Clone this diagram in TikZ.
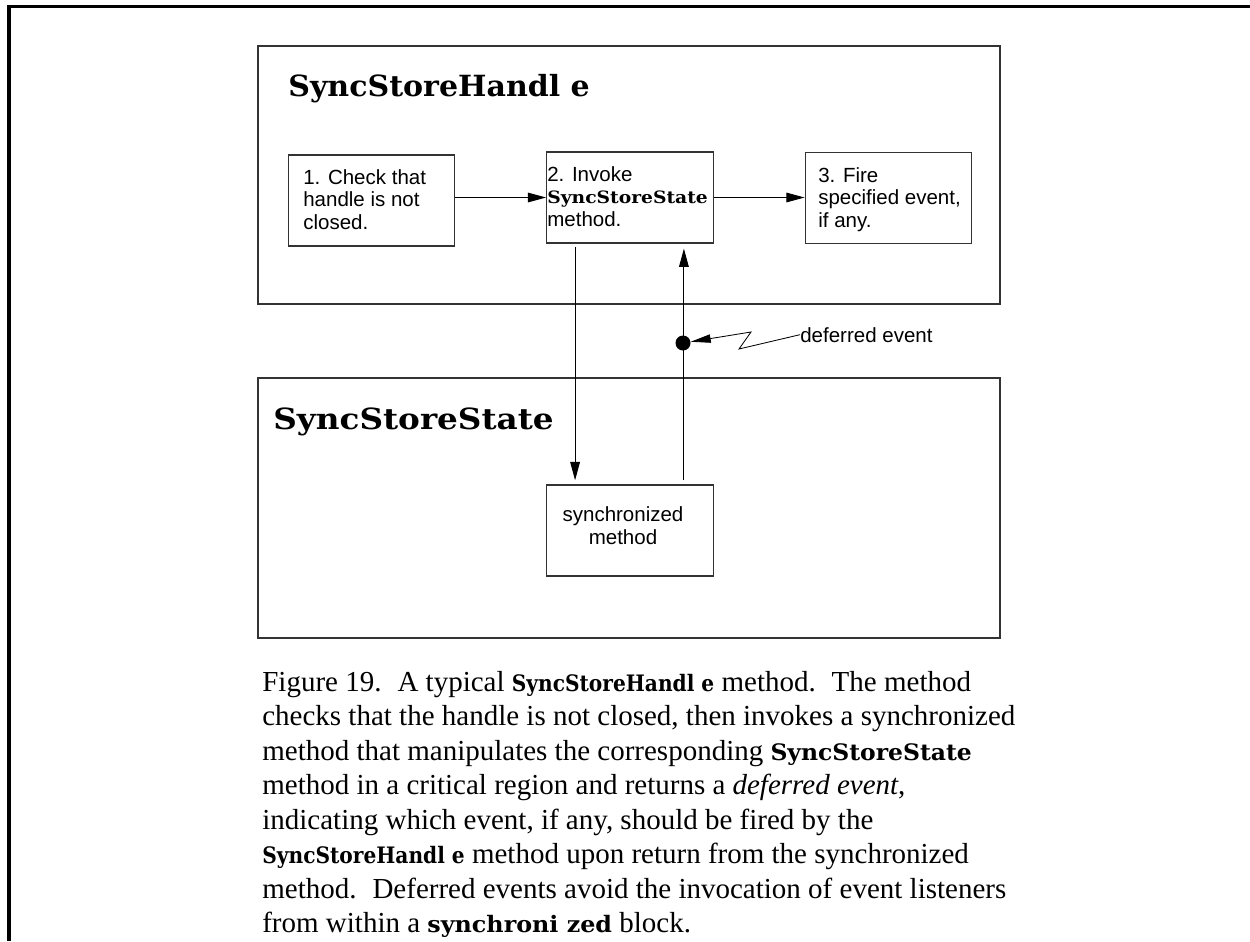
\documentclass[tikz,border=0pt]{standalone}
\usepackage{fontspec}
\setmainfont{Liberation Serif}
\newfontfamily\helv{Liberation Sans}
\newfontfamily\slab{DejaVu Serif}
\usetikzlibrary{arrows.meta}

% code identifiers set in a bold slab serif, widened to a typewriter-like width
\newcommand\codeword[3][13.6]{{\slab\bfseries\fontsize{#1}{#1}\selectfont\scalebox{#2}[1]{#3}}}

\begin{document}
\begin{tikzpicture}[x=0.6pt,y=-0.6pt,
  region/.style={draw=black!80, line width=0.85pt, rectangle, inner sep=0pt,
                 minimum width=445.2pt},
  stepbox/.style={draw=black!80, line width=0.7pt, rectangle, inner sep=0pt,
                  minimum width=100pt, minimum height=54.6pt},
  boxtext/.style={inner sep=0pt, align=left, anchor=base west,
                  font=\helv\fontsize{12.3}{13.5}\selectfont},
  title/.style={inner sep=0pt, anchor=base west,
                font=\slab\bfseries\fontsize{17.5}{20}\selectfont},
  capline/.style={inner sep=0pt, anchor=base west,
                  font=\fontsize{17.4}{21}\selectfont},
  flow/.style={draw=black, line width=0.6pt,
               -{Triangle[length=11pt,width=5.8pt]}},
  dot/.style={circle, fill=black, inner sep=0pt, minimum size=9pt},
]
\useasboundingbox (0,0) rectangle (1250,941);
\clip (0,0) rectangle (1250,941);

% page frame: top and left rules
\draw[line width=2pt, line join=miter] (9,941) -- (9,6.5) -- (1250,6.5);

% the two object regions
\node[region, minimum height=154.8pt] (handle) at (629,175) {};
\node[region, minimum height=156pt] (state) at (629,508) {};
\node[title] (handletitle) at (288,96) {\scalebox{1.03}[1]{SyncStoreHandl e}};
\node[title] (statetitle) at (273,429) {\scalebox{1.12}[1]{SyncStoreState}};

% steps inside the handle (multi-line labels are placed by their last baseline)
\node[stepbox] (check) at (371.5,200.5) {};
\node[stepbox] (invoke) at (630,197.5) {};
\node[stepbox] (fire) at (888.5,198) {};
\node[boxtext] (checktext) at (303,229) {1. Check that\\handle is not\\closed.};
\node[boxtext] (invoketext) at (547,226)
  {2. Invoke\\\codeword[10.2]{1.1}{SyncStoreState}\\method.};
\node[boxtext] (firetext) at (818,227) {3. Fire\\specified event,\\if any.};

% synchronized method inside the state
\node[stepbox] (sync) at (630,530.5) {};
\node[boxtext, align=center, anchor=base] (synctext) at (623,544)
  {synchronized\\method};

% control flow
\draw[flow] (check.east |- invoke) -- (invoke.west);
\draw[flow] (invoke.east) -- (invoke.east -| fire.west);
\draw[flow, shorten <=2pt, shorten >=2.5pt]
  ([xshift=17.4pt]invoke.south west) -- ([xshift=17.4pt]sync.north west);
\draw[flow, shorten <=2.5pt, shorten >=3pt]
  ([xshift=-18pt]sync.north east) -- ([xshift=-18pt]invoke.south east);

% deferred event returned to the handle
\node[dot] (event) at (683,343) {};
\node[boxtext] (eventlabel) at (800,342) {deferred event};
\coordinate (zigA) at (739,349);
\coordinate (zigB) at (751,332);
\draw[line width=0.5pt, -{Triangle[length=12pt,width=5pt]}]
  (eventlabel.west) -- (zigA) -- (zigB) -- (event);

% caption
\node[capline] (cap1) at (262,691)
  {Figure 19.\hspace{0.55em}A typical \codeword{0.89}{SyncStoreHandl e} method.\hspace{0.55em}The method};
\node[capline] (cap2) at (262,725.5)
  {checks that the handle is not closed, then invokes a synchronized};
\node[capline] (cap3) at (262,760)
  {method that manipulates the corresponding \codeword{1.035}{SyncStoreState}};
\node[capline] (cap4) at (262,794.5)
  {method in a critical region and returns a \textit{deferred event},};
\node[capline] (cap5) at (262,829)
  {indicating which event, if any, should be fired by the};
\node[capline] (cap6) at (262,863.5)
  {\codeword{0.89}{SyncStoreHandl e} method upon return from the synchronized};
\node[capline] (cap7) at (262,898)
  {method.\hspace{0.55em}Deferred events avoid the invocation of event listeners};
\node[capline] (cap8) at (262,932)
  {from within a \codeword{1.05}{synchroni zed} block.};
\end{tikzpicture}
\end{document}
